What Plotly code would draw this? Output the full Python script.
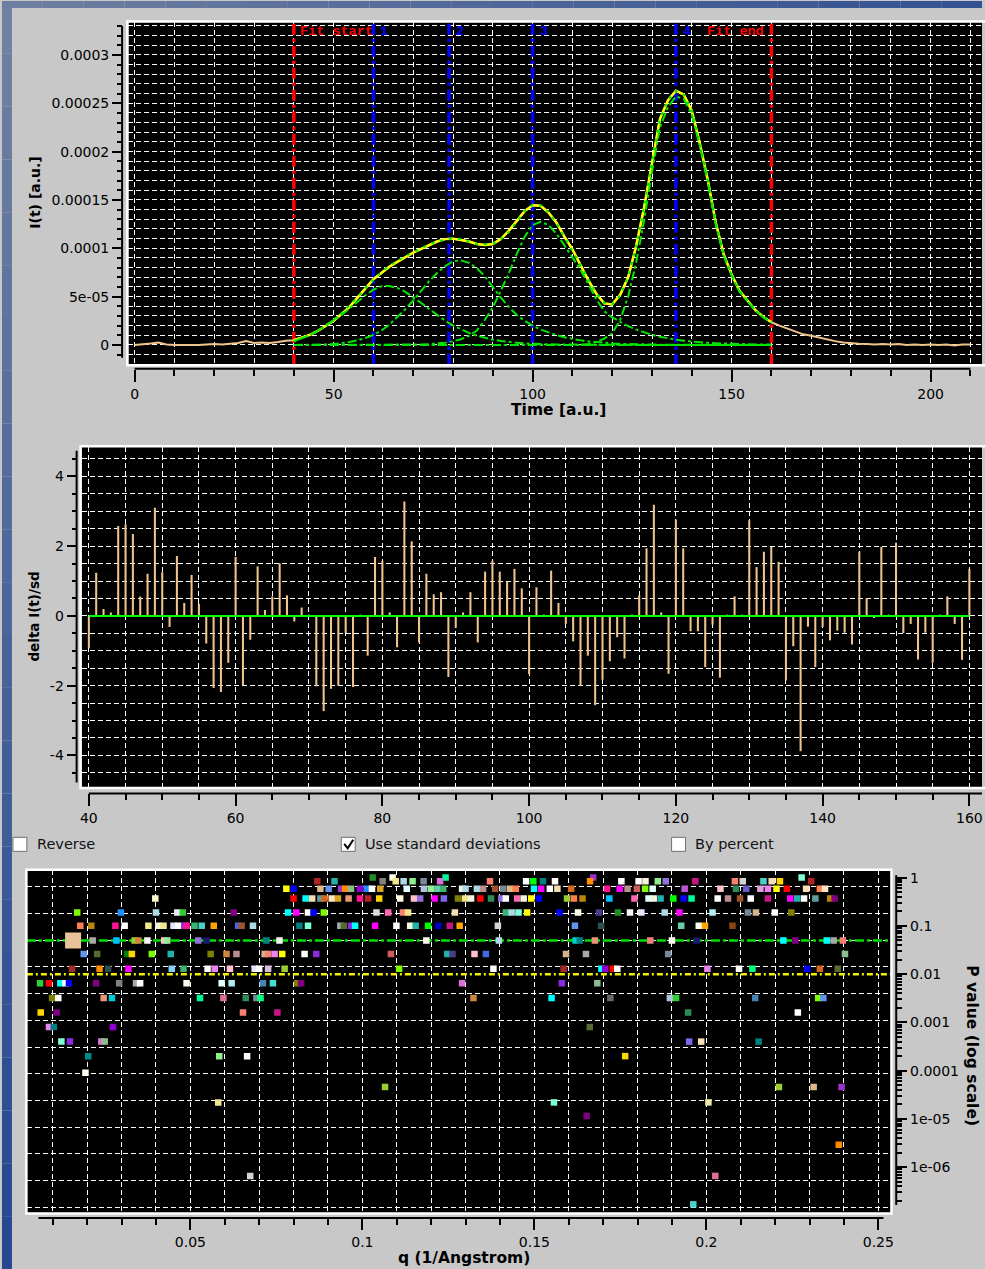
import plotly.graph_objects as go

FIG_W, FIG_H = 985, 1269


def fx(px):
    """Horizontal pixel position -> paper fraction."""
    return px / FIG_W


def fy(px):
    """Vertical pixel position (measured from the top) -> paper fraction."""
    return 1.0 - px / FIG_H


# ------------------------------------------------------------------
# Elution profile I(t) (values in units of 1e-5 a.u.)
# ------------------------------------------------------------------
INTENSITY_UNIT = 1e-5
profile_time = list(range(0, 211, 2))
profile_intensity = [
    0.0, 0.05, 0.15, 0.25, 0.05, 0.0, 0.0, -0.05, 0.0, 0.05,
    0.1, 0.05, 0.1, 0.2, 0.4, 0.2, 0.25, 0.2, 0.3, 0.45,
    0.5, 0.75, 1.05, 1.45, 2.0, 2.5, 3.2, 3.95, 4.9, 5.9,
    6.8, 7.45, 8.1, 8.6, 9.1, 9.55, 9.95, 10.35, 10.7, 10.95,
    11.0, 10.85, 10.7, 10.45, 10.35, 10.45, 10.95, 11.8, 12.8, 13.85,
    14.45, 14.4, 13.7, 12.65, 11.2, 9.9, 8.3, 6.7, 5.3, 4.3,
    4.2, 5.2, 7.0, 10.2, 14.2, 19.0, 23.4, 25.3, 26.3, 25.9,
    24.2, 20.9, 17.1, 12.7, 9.4, 7.3, 5.6, 4.6, 3.6, 2.9,
    2.35, 2.0, 1.7, 1.4, 1.1, 0.95, 0.75, 0.55, 0.4, 0.25,
    0.17, 0.12, 0.1, 0.05, 0.1, 0.05, 0.1, 0.0, 0.05, 0.0,
    0.05, 0.0, 0.05, -0.05, 0.05, 0.05,
]

fit_start, fit_end = 40, 160
peak_times = [60, 79, 100, 136]
peak_labels = ["1", "2", "3", "4"]

# Fitted peak components on the fit grid (units of 1e-5 a.u.)
fit_time = list(range(40, 161, 2))
component_1 = [
    0.40, 0.68, 1.00, 1.45, 1.98, 2.50, 3.12, 3.78, 4.48, 5.15,
    5.72, 6.08, 6.10, 5.90, 5.50, 4.95, 4.35, 3.72, 3.10, 2.52,
    2.02, 1.60, 1.25, 0.96, 0.73, 0.55, 0.42, 0.31, 0.23, 0.17,
    0.12, 0.09, 0.07, 0.05, 0.04, 0.03, 0.02, 0.02, 0.01, 0.01,
    0.01, 0, 0, 0, 0, 0, 0, 0, 0, 0,
    0, 0, 0, 0, 0, 0, 0, 0, 0, 0,
    0,
]
component_2 = [
    0, 0, 0.01, 0.03, 0.06, 0.10, 0.18, 0.30, 0.48, 0.72,
    1.05, 1.5, 2.1, 2.85, 3.7, 4.6, 5.6, 6.6, 7.45, 8.15,
    8.65, 8.75, 8.5, 7.95, 7.1, 6.0, 4.9, 3.95, 3.1, 2.5,
    2.0, 1.6, 1.28, 1.02, 0.8, 0.62, 0.48, 0.37, 0.28, 0.21,
    0.16, 0.12, 0.09, 0.07, 0.05, 0.04, 0.03, 0.02, 0.02, 0.01,
    0.01, 0, 0, 0, 0, 0, 0, 0, 0, 0,
    0,
]
component_3 = [
    0, 0, 0, 0, 0, 0, 0, 0, 0, 0,
    0, 0, 0, 0, 0.01, 0.02, 0.05, 0.09, 0.15, 0.24,
    0.38, 0.6, 0.95, 1.5, 2.6, 3.9, 5.6, 7.4, 9.4, 11.2,
    12.4, 12.75, 12.4, 11.5, 10.3, 9.1, 7.8, 6.3, 4.75, 3.5,
    2.85, 2.4, 1.95, 1.6, 1.3, 1.05, 0.85, 0.68, 0.55, 0.44,
    0.35, 0.28, 0.22, 0.18, 0.14, 0.11, 0.09, 0.07, 0.06, 0.05,
    0.04,
]
component_4 = [
    0, 0, 0, 0, 0, 0, 0, 0, 0, 0,
    0, 0, 0, 0, 0, 0, 0, 0, 0, 0,
    0, 0, 0, 0, 0, 0, 0, 0, 0, 0,
    0, 0, 0, 0, 0, 0, 0, 0.1, 0.3, 0.65,
    1.2, 2.6, 5.0, 8.5, 12.85, 17.9, 22.5, 24.6, 25.7, 25.45,
    23.85, 20.6, 16.9, 12.5, 9.25, 7.2, 5.5, 4.5, 3.55, 2.85,
    2.3,
]
components = [component_1, component_2, component_3, component_4]
background_level = 0.0

top_y_tickvals = [0, 5e-5, 1e-4, 1.5e-4, 2e-4, 2.5e-4, 3e-4]
top_y_ticktext = ["0", "5e-05", "0.0001", "0.00015", "0.0002", "0.00025", "0.0003"]

# ------------------------------------------------------------------
# Normalised residuals delta I(t)/sd, one per frame inside the fit range
# ------------------------------------------------------------------
residual_time = list(range(40, 161))
residual_values = [
    -0.93, 1.24, 0.20, 0.10, 2.58, 2.63, 2.35, 0.56, 1.21, 3.10,
    1.25, -0.32, 1.72, 0.37, 1.17, 0.35, -0.79, -2.07, -2.18, -1.34,
    1.69, -1.99, -0.68, 1.42, 0.17, 0.56, 1.51, 0.59, -0.16, 0.24,
    0.03, -2.02, -2.73, -2.09, -2.00, -0.49, -2.04, 0.02, -1.14, 1.69,
    1.58, 0.10, -0.90, 3.28, 2.14, -0.76, 1.21, 0.62, 0.68, -1.75,
    -0.34, 0.10, 0.68, -0.76, 1.27, 1.58, 1.27, 0.97, 1.35, 0.79,
    -1.67, 0.82, 0.01, 1.30, 0.37, -0.23, -0.73, -2.00, -1.14, -2.56,
    -1.83, -1.30, -0.61, -1.22, 0.02, 0.59, 1.94, 3.19, 0.10, -1.66,
    2.76, 1.94, -0.44, -0.44, -1.47, -0.25, -1.77, 0.02, 0.56, 0.02,
    2.74, 1.40, 1.84, 1.98, 1.55, -1.85, -0.87, -3.88, -0.31, -1.47,
    -0.31, -0.70, -0.42, -0.48, -0.82, 1.84, 0.51, -0.06, 1.98, 0.02,
    2.10, -0.49, -0.23, -1.25, -0.48, -1.34, 0.02, 0.56, -0.23, -1.26,
    1.35,
]
mid_y_tickvals = [-4, -2, 0, 2, 4]
mid_y_ticktext = ["-4", "-2", "0", "2", "4"]

# ------------------------------------------------------------------
# Pairwise frame comparison: P value per q bin
# ------------------------------------------------------------------
pvalue_levels = [1.0, 0.84, 0.59, 0.37, 0.19, 0.1, 0.05, 0.026, 0.013, 0.0065, 0.0032,
                 0.0016, 0.0008, 0.0004, 0.0002, 9e-5, 4.6e-5, 2.2e-5, 1.15e-5,
                 2.9e-6, 6.6e-7, 1.7e-7]
q_by_level = [
    [0.1030, 0.1088, 0.1242, 0.1671, 0.2277],
    [0.0869, 0.0919, 0.1059, 0.1097, 0.1120, 0.1146, 0.1178, 0.1226, 0.1371, 0.1476,
     0.1497, 0.1525, 0.1560, 0.1662, 0.1753, 0.1803, 0.1823, 0.1859, 0.1882, 0.1968,
     0.2083, 0.2106, 0.2166, 0.2190, 0.2214, 0.2305],
    [0.0779, 0.0800, 0.0878, 0.0902, 0.0938, 0.0950, 0.0967, 0.0993, 0.1013, 0.1028,
     0.1052, 0.1129, 0.1179, 0.1199, 0.1218, 0.1235, 0.1290, 0.1300, 0.1333, 0.1351,
     0.1386, 0.1409, 0.1429, 0.1446, 0.1499, 0.1520, 0.1545, 0.1567, 0.1607, 0.1711,
     0.1748, 0.1771, 0.1798, 0.1822, 0.1844, 0.1937, 0.2041, 0.2086, 0.2116, 0.2157,
     0.2179, 0.2204, 0.2234, 0.2290, 0.2330, 0.2345],
    [0.0398, 0.0800, 0.0835, 0.0854, 0.0878, 0.0890, 0.0911, 0.0929, 0.0960, 0.0993,
     0.1017, 0.1049, 0.1110, 0.1150, 0.1168, 0.1210, 0.1237, 0.1278, 0.1298, 0.1316,
     0.1343, 0.1374, 0.1404, 0.1417, 0.1450, 0.1469, 0.1491, 0.1513, 0.1595, 0.1615,
     0.1640, 0.1718, 0.1791, 0.1832, 0.1847, 0.1867, 0.1904, 0.1934, 0.1957, 0.2033,
     0.2063, 0.2098, 0.2129, 0.2179, 0.2244, 0.2264, 0.2284, 0.2317, 0.2360, 0.2373],
    [0.0171, 0.0298, 0.0400, 0.0462, 0.0478, 0.0626, 0.0784, 0.0808, 0.0842, 0.0858,
     0.0888, 0.1041, 0.1075, 0.1118, 0.1133, 0.1269, 0.1417, 0.1434, 0.1454, 0.1479,
     0.1573, 0.1627, 0.1688, 0.1743, 0.1778, 0.1811, 0.1879, 0.1922, 0.2018, 0.2121,
     0.2144, 0.2199, 0.2247],
    [0.0180, 0.0212, 0.0282, 0.0309, 0.0378, 0.0407, 0.0422, 0.0451, 0.0465, 0.0483,
     0.0489, 0.0512, 0.0533, 0.0568, 0.0639, 0.0649, 0.0682, 0.0817, 0.0842, 0.0936,
     0.0946, 0.0967, 0.0979, 0.1037, 0.1099, 0.1139, 0.1155, 0.1191, 0.1221, 0.1254,
     0.1283, 0.1394, 0.1618, 0.1694, 0.1927, 0.1978, 0.1996, 0.2076],
    [0.0216, 0.0285, 0.0338, 0.0349, 0.0375, 0.0424, 0.0433, 0.0523, 0.0547, 0.0721,
     0.0759, 0.1186, 0.1397, 0.1620, 0.1632, 0.1676, 0.1837, 0.1900, 0.1972, 0.2224,
     0.2259, 0.2350, 0.2370, 0.2397],
    [0.0190, 0.0229, 0.0316, 0.0330, 0.0388, 0.0443, 0.0559, 0.0605, 0.0634, 0.0716,
     0.0726, 0.0745, 0.0767, 0.0832, 0.0866, 0.1083, 0.1247, 0.1262, 0.1326, 0.1359,
     0.1592, 0.1650, 0.1889, 0.2403],
    [0.0156, 0.0236, 0.0261, 0.0320, 0.0446, 0.0480, 0.0550, 0.0571, 0.0615, 0.0687,
     0.0700, 0.0726, 0.0774, 0.1107, 0.1381, 0.1585, 0.1695, 0.1706, 0.1728, 0.1741,
     0.2003, 0.2095, 0.2134, 0.2293, 0.2330, 0.2382],
    [0.0063, 0.0089, 0.0122, 0.0137, 0.0147, 0.0226, 0.0293, 0.0342, 0.0354, 0.0489,
     0.0591, 0.0620, 0.0711, 0.0740, 0.0810, 0.0822, 0.1290, 0.1580, 0.1683],
    [0.0098, 0.0116, 0.0248, 0.0272, 0.0528, 0.0596, 0.0661, 0.0692, 0.0704, 0.1323,
     0.1550, 0.1721, 0.1894, 0.1912, 0.2142, 0.2325, 0.2340],
    [0.0065, 0.0111, 0.0653, 0.0753, 0.1947, 0.2266],
    [0.0089, 0.0103, 0.0275, 0.1661],
    [0.0125, 0.0150, 0.0241, 0.0251, 0.1950, 0.1985, 0.2152],
    [0.0203, 0.0584, 0.0665, 0.1764],
    [0.0195],
    [0.1066, 0.2211, 0.2312, 0.2393],
    [0.0581, 0.1557, 0.2006],
    [0.1652],
    [0.2385],
    [0.0674, 0.2026],
    [0.1962],
]
colour_by_level = [
    ["forestgreen", "ivory", "mediumspringgreen", "darkorchid", "aquamarine"],
    ["firebrick", "lightseagreen", "gray", "khaki", "lightblue", "lightgreen", "lightslategray",
     "orchid", "salmon", "white", "lime", "teal", "white", "darkorange", "white", "white",
     "beige", "lightgreen", "mediumpurple", "mediumvioletred", "salmon", "lightgray",
     "mediumturquoise", "wheat", "gold", "firebrick"],
    ["yellow", "blue", "burlywood", "cornflowerblue", "darkorchid", "darkorange", "darkseagreen",
     "darkviolet", "dodgerblue", "white", "goldenrod", "lightcyan", "lightsteelblue", "lightgreen",
     "mediumaquamarine", "mediumseagreen", "beige", "lightblue", "lightblue", "rosybrown",
     "sienna", "lightslategray", "burlywood", "coral", "cyan", "magenta", "white", "wheat",
     "chocolate", "deeppink", "magenta", "rosybrown", "indianred", "lawngreen", "lightcyan",
     "mediumorchid", "pink", "seagreen", "slateblue", "plum", "violet", "yellow", "red",
     "peachpuff", "coral", "bisque"],
    ["lemonchiffon", "red", "cyan", "wheat", "cadetblue", "chocolate", "bisque", "goldenrod",
     "darksalmon", "deeppink", "firebrick", "gold", "cornsilk", "pink", "mediumpurple", "magenta",
     "mediumslateblue", "olive", "khaki", "beige", "red", "seagreen", "mediumpurple", "white",
     "hotpink", "beige", "yellow", "blue", "yellowgreen", "coral", "darkgoldenrod", "deepskyblue",
     "hotpink", "lightcyan", "beige", "lightseagreen", "lime", "blue", "mediumspringgreen",
     "white", "rosybrown", "sienna", "white", "mediumvioletred", "magenta", "lightseagreen",
     "white", "cadetblue", "darkgoldenrod", "purple"],
    ["lawngreen", "dodgerblue", "lightblue", "lavender", "limegreen", "purple", "cyan", "magenta",
     "white", "blue", "lawngreen", "gainsboro", "hotpink", "salmon", "khaki", "wheat",
     "mediumseagreen", "lightblue", "aquamarine", "yellow", "blue", "ivory", "darkslateblue",
     "forestgreen", "whitesmoke", "lavender", "lightblue", "magenta", "paleturquoise",
     "lightslategray", "tan", "white", "olive"],
    ["coral", "darkgoldenrod", "deeppink", "white", "khaki", "beige", "khaki", "lavender", "white",
     "blueviolet", "deeppink", "mediumseagreen", "mediumturquoise", "orange", "royalblue",
     "sienna", "lightblue", "teal", "aquamarine", "darkgray", "darkolivegreen", "blueviolet",
     "cyan", "magenta", "white", "beige", "lightseagreen", "lime", "mediumblue",
     "mediumvioletred", "orange", "lightgray", "cornflowerblue", "darkslategray",
     "mediumaquamarine", "ivory", "orange", "saddlebrown"],
    ["darkgray", "deepskyblue", "yellowgreen", "peru", "whitesmoke", "pink", "lightgreen",
     "mediumpurple", "midnightblue", "teal", "whitesmoke", "ivory", "lightblue", "darkturquoise",
     "teal", "darksalmon", "lightcoral", "ivory", "midnightblue", "cyan", "purple", "cyan",
     "darkgray", "salmon"],
    ["cornflowerblue", "darkolivegreen", "green", "gold", "lawngreen", "lightseagreen", "olive",
     "peru", "rosybrown", "tan", "salmon", "violet", "yellow", "white", "blueviolet", "indianred",
     "lightseagreen", "darkslateblue", "pink", "royalblue", "tan", "darkgray", "lightslategray",
     "darkseagreen"],
    ["brown", "darkorange", "darkslategray", "magenta", "lightskyblue", "mediumseagreen", "white",
     "violet", "pink", "lavender", "white", "thistle", "yellowgreen", "lawngreen", "white",
     "brown", "cyan", "darkviolet", "red", "white", "violet", "white", "springgreen", "blue",
     "chocolate", "darkolivegreen"],
    ["limegreen", "red", "cyan", "white", "blue", "purple", "gray", "darkgray", "white", "ivory",
     "lightcyan", "paleturquoise", "steelblue", "turquoise", "olive", "purple", "orchid",
     "blueviolet", "darkseagreen"],
    ["olive", "white", "darksalmon", "darkturquoise", "mediumspringgreen", "palevioletred",
     "seagreen", "lightslategray", "springgreen", "peru", "cyan", "dimgray", "lightsteelblue",
     "limegreen", "steelblue", "lawngreen", "cornflowerblue"],
    ["gold", "purple", "salmon", "mediumvioletred", "seagreen", "white"],
    ["violet", "teal", "darkviolet", "darkolivegreen"],
    ["aquamarine", "blueviolet", "orchid", "darkseagreen", "mediumslateblue", "wheat", "teal"],
    ["darkcyan", "lightgreen", "white", "gold"],
    ["ivory"],
    ["yellowgreen", "yellowgreen", "burlywood", "darkorchid"],
    ["khaki", "aquamarine", "palegoldenrod"],
    ["purple"],
    ["darkorange"],
    ["lightgray", "palevioletred"],
    ["mediumturquoise"],
]
selected_q = [0.0159]
selected_p = [0.05]
significance_levels = [0.05, 0.01]

pvalue_tickvals = [1, 0.1, 0.01, 0.001, 1e-4, 1e-5, 1e-6]
pvalue_ticktext = ["1", "0.1", "0.01", "0.001", "0.0001", "1e-05", "1e-06"]
q_tickvals = [0.05, 0.1, 0.15, 0.2, 0.25]
q_ticktext = ["0.05", "0.1", "0.15", "0.2", "0.25"]
pvalue_grid = [0.6427, 0.1799, 0.05035, 0.01409, 0.003945, 0.001104, 3.09e-4,
               8.65e-5, 2.42e-5, 6.78e-6, 1.897e-6, 5.31e-7, 1.486e-7]

# ------------------------------------------------------------------
# Styling
# ------------------------------------------------------------------
TAN = "#efc48c"
FIT_GREEN = "#00e600"
PANEL_GREY = "#c8c8c8"
TICKFONT = dict(family="DejaVu Sans", size=14, color="black")
TITLEFONT = dict(family="DejaVu Sans", size=15.5, color="black")

top_xrange = [-1.58, 212.92]
top_yrange = [-2.04e-5, 3.341e-4]
mid_xrange = [39.01, 161.72]
mid_yrange = [-4.917, 4.854]
bot_xrange = [0.00247, 0.2537]
bot_yrange = [-6.95, 0.151]          # log10 units

GRID = dict(showgrid=True, gridcolor="white", gridwidth=1, griddash="5px,3px",
            showticklabels=False, ticks="", zeroline=False, showline=False)
SCALE = dict(showgrid=False, zeroline=False, showline=False, ticks="outside",
             tickcolor="black", tickwidth=1.5, tickfont=TICKFONT)


def minor(ticklen, **kw):
    return dict(ticks="outside", ticklen=ticklen, tickcolor="black", tickwidth=1.5,
                showgrid=False, **kw)


traces = []

# ---- top panel: fit range / peak markers, profile and its decomposition ----
marker_lines = [(fit_start, "#ff0000"), (fit_end, "#ff0000")] + [(t, "#0000ff") for t in peak_times]
for t, colour in marker_lines:
    traces.append(go.Scatter(x=[t, t], y=top_yrange, mode="lines",
                             line=dict(color=colour, width=3.5, dash="11px,4px,3px,4px"),
                             xaxis="x", yaxis="y"))

profile_scaled = [v * INTENSITY_UNIT for v in profile_intensity]
traces.append(go.Scatter(x=profile_time, y=profile_scaled, mode="lines",
                         line=dict(color=TAN, width=2), xaxis="x", yaxis="y"))
fit_pts = [(t, v) for t, v in zip(profile_time, profile_scaled) if fit_start <= t <= fit_end]
traces.append(go.Scatter(x=[t for t, _ in fit_pts], y=[v for _, v in fit_pts], mode="lines",
                         line=dict(color="#ffff00", width=2.5), xaxis="x", yaxis="y"))
for comp in components:
    traces.append(go.Scatter(x=fit_time, y=[c * INTENSITY_UNIT for c in comp], mode="lines",
                             line=dict(color=FIT_GREEN, width=2, dash="dashdot"),
                             xaxis="x", yaxis="y"))
traces.append(go.Scatter(x=[fit_start, fit_end], y=[background_level, background_level],
                         mode="lines", line=dict(color=FIT_GREEN, width=2, dash="dashdot"),
                         xaxis="x", yaxis="y"))
total_fit = [sum(vals) * INTENSITY_UNIT for vals in zip(*components)]
traces.append(go.Scatter(x=fit_time, y=total_fit, mode="lines",
                         line=dict(color=FIT_GREEN, width=2, dash="3px,6px"),
                         xaxis="x", yaxis="y"))

# ---- middle panel: residuals ----
traces.append(go.Bar(x=residual_time, y=residual_values, width=0.28,
                     marker=dict(color=TAN, line=dict(width=0)), xaxis="x2", yaxis="y2"))
traces.append(go.Scatter(x=[fit_start, fit_end], y=[0, 0], mode="lines",
                         line=dict(color="#00ff00", width=2), xaxis="x2", yaxis="y2"))

# ---- bottom panel: P values ----
for level, colour, dash in zip(significance_levels, ["#00e000", "#f0f000"],
                               ["9px,3px,3px,3px", "6px,3px,2px,3px"]):
    traces.append(go.Scatter(x=bot_xrange, y=[level, level], mode="lines",
                             line=dict(color=colour, width=2.5, dash=dash),
                             xaxis="x3", yaxis="y3"))
q_all, p_all, c_all = [], [], []
for level, qs, cs in zip(pvalue_levels, q_by_level, colour_by_level):
    q_all += qs
    p_all += [level] * len(qs)
    c_all += cs
traces.append(go.Scatter(x=q_all, y=p_all, mode="markers",
                         marker=dict(symbol="square", size=6.5, color=c_all, line=dict(width=0)),
                         xaxis="x3", yaxis="y3"))
traces.append(go.Scatter(x=selected_q, y=selected_p, mode="markers",
                         marker=dict(symbol="square", size=16, color="#e8c39a", line=dict(width=0)),
                         xaxis="x3", yaxis="y3"))

# empty traces so the offset scale axes are laid out
for xa, ya in [("x4", "y4"), ("x5", "y5"), ("x6", "y6")]:
    traces.append(go.Scatter(x=[], y=[], xaxis=xa, yaxis=ya, hoverinfo="skip"))

fig = go.Figure(data=traces)

# ------------------------------------------------------------------
# Shapes: window chrome, plot frames, axis lines, checkboxes
# ------------------------------------------------------------------
shapes = []
n_band = 24
for i in range(n_band):
    f = i / (n_band - 1)
    r, g, b = (int(112 + (38 - 112) * f), int(130 + (72 - 130) * f), int(162 + (146 - 162) * f))
    shapes.append(dict(type="rect", xref="paper", yref="paper", x0=0, x1=fx(10),
                       y0=fy(FIG_H * (i + 1) / n_band), y1=fy(FIG_H * i / n_band),
                       fillcolor=f"rgb({r},{g},{b})", line=dict(width=0), layer="below"))
    r, g, b = (int(110 + (52 - 110) * f), int(126 + (82 - 126) * f), int(160 + (146 - 160) * f))
    shapes.append(dict(type="rect", xref="paper", yref="paper",
                       x0=fx(FIG_W * i / n_band), x1=fx(FIG_W * (i + 1) / n_band),
                       y0=fy(7), y1=1, fillcolor=f"rgb({r},{g},{b})", line=dict(width=0),
                       layer="below"))

# white plot frames
for x0, x1, y0, y1 in [(126, 995, 20.5, 364.5), (79, 995, 445.5, 787.5), (24.5, 894, 869.5, 1213.5)]:
    shapes.append(dict(type="rect", xref="paper", yref="paper", x0=fx(x0), x1=fx(x1),
                       y0=fy(y1), y1=fy(y0), line=dict(color="white", width=2.5)))

# offset axis lines
AXLINE = dict(color="black", width=2)
shapes += [
    dict(type="line", xref="x", yref="paper", x0=profile_time[0], x1=profile_time[-1],
         y0=fy(368), y1=fy(368), line=AXLINE),
    dict(type="line", xref="paper", yref="paper", x0=fx(120.7), x1=fx(120.7),
         y0=fy(357), y1=fy(25), line=AXLINE),
    dict(type="line", xref="paper", yref="paper", x0=fx(87.3), x1=1.0,
         y0=fy(793), y1=fy(793), line=AXLINE),
    dict(type="line", xref="paper", yref="paper", x0=fx(75), x1=fx(75),
         y0=fy(782), y1=fy(450), line=AXLINE),
    dict(type="line", xref="paper", yref="paper", x0=fx(36.7), x1=fx(886),
         y0=fy(1218), y1=fy(1218), line=AXLINE),
    dict(type="line", xref="paper", yref="paper", x0=fx(898.8), x1=fx(898.8),
         y0=fy(1205), y1=fy(875), line=AXLINE),
]

# checkboxes
for x0 in [11, 341, 673]:
    shapes.append(dict(type="rect", xref="paper", yref="paper", x0=fx(x0), x1=fx(x0 + 14),
                       y0=fy(851), y1=fy(837), fillcolor="white",
                       line=dict(color="#707070", width=1)))
check_pts = [(344, 843.5), (347.5, 848), (353, 839.5)]
check_path = "M " + " L ".join(f"{fx(a):.5f},{fy(b):.5f}" for a, b in check_pts)
shapes.append(dict(type="path", xref="paper", yref="paper", path=check_path,
                   line=dict(color="black", width=2)))

# ------------------------------------------------------------------
# Annotations
# ------------------------------------------------------------------
ann = []
MONO = dict(family="Liberation Mono", size=13.5)
ann.append(dict(x=fit_start, y=fy(30.5), xref="x", yref="paper", xanchor="left", yanchor="middle",
                xshift=4, text="<b>Fit start</b>", showarrow=False, font=dict(color="#ff0000", **MONO)))
ann.append(dict(x=fit_end, y=fy(30.5), xref="x", yref="paper", xanchor="right", yanchor="middle",
                xshift=-5, text="<b>Fit end</b>", showarrow=False, font=dict(color="#ff0000", **MONO)))
for t, lab in zip(peak_times, peak_labels):
    ann.append(dict(x=t, y=fy(30.5), xref="x", yref="paper", xanchor="left", yanchor="middle",
                    xshift=5, text=f"<b>{lab}</b>", showarrow=False,
                    font=dict(color="#0000ff", **MONO)))

ann += [
    dict(x=fx(559), y=fy(409), text="<b>Time [a.u.]</b>", font=TITLEFONT),
    dict(x=fx(33), y=fy(192), text="<b>I(t) [a.u.]</b>", textangle=-90,
         font=dict(family="DejaVu Sans", size=14, color="black")),
    dict(x=fx(31.7), y=fy(616.5), text="<b>delta I(t)/sd</b>", textangle=-90,
         font=dict(family="DejaVu Sans", size=13.5, color="black")),
    dict(x=fx(464), y=fy(1258), text="<b>q (1/Angstrom)</b>", font=TITLEFONT),
    dict(x=fx(975), y=fy(1045), text="<b>P value (log scale)</b>", textangle=90, font=TITLEFONT),
]
for x0, label in [(33, "Reverse"), (363, "Use standard deviations"), (695, "By percent")]:
    ann.append(dict(x=fx(x0), y=fy(844), xanchor="left", text=label,
                    font=dict(family="DejaVu Sans", size=14.5, color="#111111")))
for a in ann:
    a.setdefault("xref", "paper")
    a.setdefault("yref", "paper")
    a.setdefault("showarrow", False)
    a.setdefault("xanchor", "center")
    a.setdefault("yanchor", "middle")

# ------------------------------------------------------------------
# Layout
# ------------------------------------------------------------------
top_minor_y = [k * 1e-5 for k in range(-1, 34)]
mid_minor_y = [k * 0.5 for k in range(-9, 10)]
bot_minor_x = [round(k * 0.01, 2) for k in range(1, 26)]
bot_minor_y = [m * 10 ** e for e in range(-7, 0) for m in range(2, 10) if m * 10 ** e > 1.2e-7]

fig.update_layout(
    width=FIG_W, height=FIG_H, autosize=False,
    margin=dict(l=0, r=0, t=0, b=0, pad=0),
    paper_bgcolor=PANEL_GREY, plot_bgcolor="black",
    showlegend=False, hovermode=False,
    shapes=shapes, annotations=ann,
    # top panel
    xaxis=dict(domain=[fx(127), 1.0], range=top_xrange, anchor="y", tick0=0, dtick=10, **GRID),
    yaxis=dict(domain=[fy(364), fy(21)], range=top_yrange, anchor="x", tick0=0, dtick=1e-5, **GRID),
    xaxis4=dict(overlaying="x", anchor="free", position=fy(368), range=top_xrange,
                tick0=0, dtick=50, ticklen=12, minor=minor(6, tick0=0, dtick=10), **SCALE),
    yaxis4=dict(overlaying="y", anchor="free", position=fx(120.7), side="left", range=top_yrange,
                tickmode="array", tickvals=top_y_tickvals, ticktext=top_y_ticktext, ticklen=10,
                minor=minor(5, tickmode="array", tickvals=top_minor_y), **SCALE),
    # residual panel
    xaxis2=dict(domain=[fx(80), 1.0], range=mid_xrange, anchor="y2", tick0=0, dtick=5, **GRID),
    yaxis2=dict(domain=[fy(787), fy(446)], range=mid_yrange, anchor="x2", tick0=0, dtick=0.5, **GRID),
    xaxis5=dict(overlaying="x2", anchor="free", position=fy(793), range=mid_xrange,
                tick0=0, dtick=20, ticklen=12, minor=minor(6, tick0=0, dtick=5), **SCALE),
    yaxis5=dict(overlaying="y2", anchor="free", position=fx(75), side="left", range=mid_yrange,
                tickmode="array", tickvals=mid_y_tickvals, ticktext=mid_y_ticktext, ticklen=10,
                minor=minor(5, tickmode="array", tickvals=mid_minor_y), **SCALE),
    # P value panel
    xaxis3=dict(domain=[fx(25), fx(893.6)], range=bot_xrange, anchor="y3", tick0=0, dtick=0.01, **GRID),
    yaxis3=dict(domain=[fy(1213), fy(870)], type="log", range=bot_yrange, anchor="x3",
                tickmode="array", tickvals=pvalue_grid, **GRID),
    xaxis6=dict(overlaying="x3", anchor="free", position=fy(1218), range=bot_xrange,
                tickmode="array", tickvals=q_tickvals, ticktext=q_ticktext, ticklen=11,
                minor=minor(6, tickmode="array", tickvals=bot_minor_x), **SCALE),
    yaxis6=dict(overlaying="y3", anchor="free", position=fx(898.8), side="right", type="log",
                range=bot_yrange, tickmode="array", tickvals=pvalue_tickvals,
                ticktext=pvalue_ticktext, ticklen=10,
                minor=minor(5, tickmode="array", tickvals=bot_minor_y), **SCALE),
)

fig.write_html("out.html", config={"displayModeBar": False})
